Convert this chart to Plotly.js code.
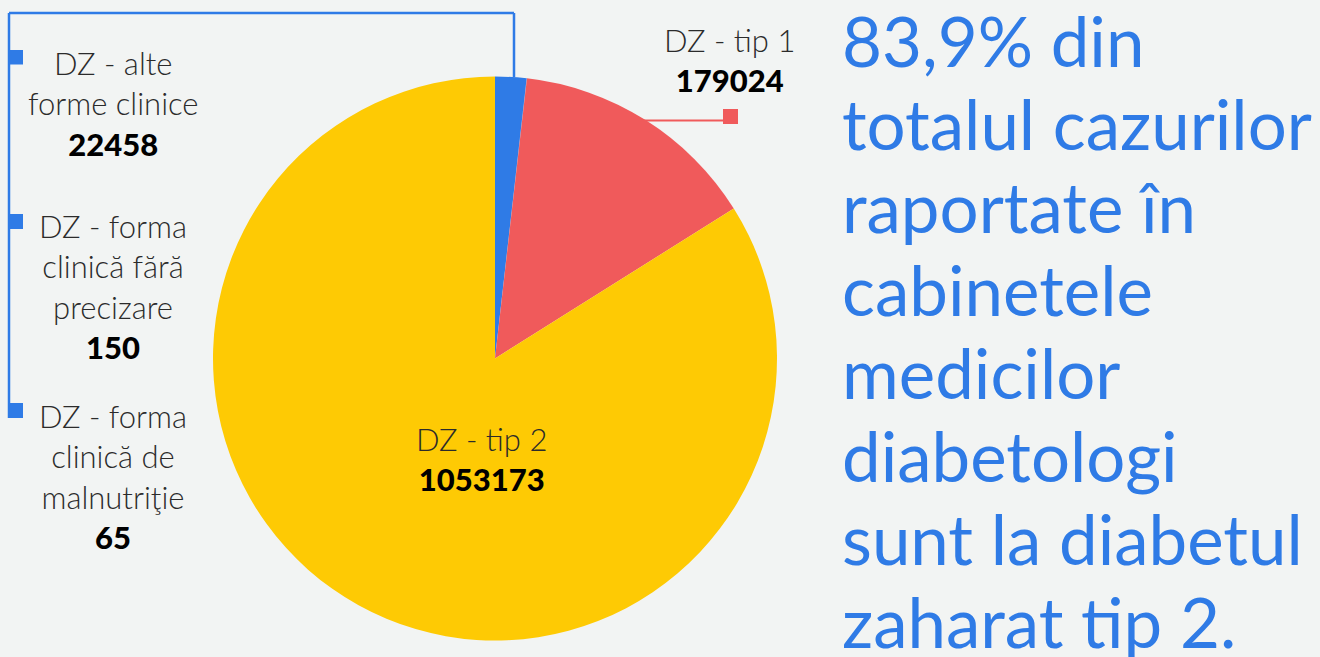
<!DOCTYPE html>
<html>
<head>
<meta charset="utf-8">
<script src="https://cdn.plot.ly/plotly-3.0.1.min.js"></script>
<style>
html,body{margin:0;padding:0;background:#F2F4F3;}
#chart{width:1320px;height:657px;}
</style>
</head>
<body>
<div id="chart"></div>
<script>
// ---- data ----
var categories = ["DZ - alte forme clinice", "DZ - forma clinică fără precizare", "DZ - forma clinică de malnutriţie", "DZ - tip 1", "DZ - tip 2"];
var wrappedLabels = ["DZ - alte<br>forme clinice", "DZ - forma<br>clinică fără<br>precizare", "DZ - forma<br>clinică de<br>malnutriţie", "DZ - tip 1", "DZ - tip 2"];
var values = [22458, 150, 65, 179024, 1053173];
var headlineLines = ["83,9% din", "totalul cazurilor", "raportate în", "cabinetele", "medicilor", "diabetologi", "sunt la diabetul", "zaharat tip 2."];

// ---- style ----
var BLUE = "#2F7BE6", RED = "#F05A5B", YELLOW = "#FECA04";
var sliceColors = [BLUE, BLUE, BLUE, RED, YELLOW];
var W = 1320, H = 657;
function px(x){ return x / W; }
function py(y){ return 1 - y / H; }

var cx = 495, cy = 358.5, R = 282;

var trace = {
  type: "pie",
  labels: categories,
  values: values,
  sort: false,
  direction: "clockwise",
  rotation: 0,
  textinfo: "none",
  hoverinfo: "label+value",
  showlegend: false,
  marker: { colors: sliceColors, line: { width: 0 } },
  domain: { x: [px(cx - R), px(cx + R)], y: [py(cy + R), py(cy - R)] }
};

function lbl(i){ return wrappedLabels[i] + "<br><span style=\"font-weight:900;fill:#000\">" + values[i] + "</span>"; }
var labelFont = { family: "Lato, 'Open Sans', sans-serif", size: 31, color: "#2b2b2b", weight: 300 };

var annotations = [
  { text: lbl(0), x: px(113), y: py(103.5) },
  { text: lbl(1), x: px(113), y: py(287) },
  { text: lbl(2), x: px(113), y: py(476) },
  { text: lbl(3), x: px(729.5), y: py(60) },
  { text: lbl(4), x: px(481), y: py(459) }
].map(function(a){
  return Object.assign({ xref: "paper", yref: "paper", showarrow: false, xanchor: "center", yanchor: "middle", align: "center", font: labelFont }, a);
});

var headBaseline0 = 67.5, headStep = 83;
headlineLines.forEach(function(t, i){
  annotations.push({
    text: t, xref: "paper", yref: "paper", x: px(840), y: py(headBaseline0 + i * headStep - 27),
    xanchor: "left", yanchor: "middle", align: "left", showarrow: false,
    font: { family: "Lato, 'Open Sans', sans-serif", size: 69, color: BLUE, weight: 400 }
  });
});

var lineBlue = { color: BLUE, width: 2.5 };
var shapes = [
  { type: "line", xref: "paper", yref: "paper", x0: px(9), y0: py(13), x1: px(514), y1: py(13), line: lineBlue },
  { type: "line", xref: "paper", yref: "paper", x0: px(514), y0: py(13), x1: px(514), y1: py(77), line: lineBlue },
  { type: "line", xref: "paper", yref: "paper", x0: px(9), y0: py(13), x1: px(9), y1: py(418), line: lineBlue },
  { type: "rect", xref: "paper", yref: "paper", x0: px(8), y0: py(50), x1: px(23), y1: py(64.5), fillcolor: BLUE, line: { width: 0 } },
  { type: "rect", xref: "paper", yref: "paper", x0: px(8), y0: py(214), x1: px(23), y1: py(229), fillcolor: BLUE, line: { width: 0 } },
  { type: "rect", xref: "paper", yref: "paper", x0: px(8), y0: py(403), x1: px(23), y1: py(418), fillcolor: BLUE, line: { width: 0 } },
  { type: "line", xref: "paper", yref: "paper", x0: px(640), y0: py(120.5), x1: px(725), y1: py(120.5), line: { color: RED, width: 2 } },
  { type: "rect", xref: "paper", yref: "paper", x0: px(723), y0: py(109), x1: px(738), y1: py(124), fillcolor: RED, line: { width: 0 } }
];

var layout = {
  width: W, height: H,
  margin: { l: 0, r: 0, t: 0, b: 0 },
  paper_bgcolor: "#F2F4F3",
  plot_bgcolor: "#F2F4F3",
  annotations: annotations,
  shapes: shapes
};

Plotly.newPlot("chart", [trace], layout, { displayModeBar: false, staticPlot: true });
</script>
</body>
</html>
